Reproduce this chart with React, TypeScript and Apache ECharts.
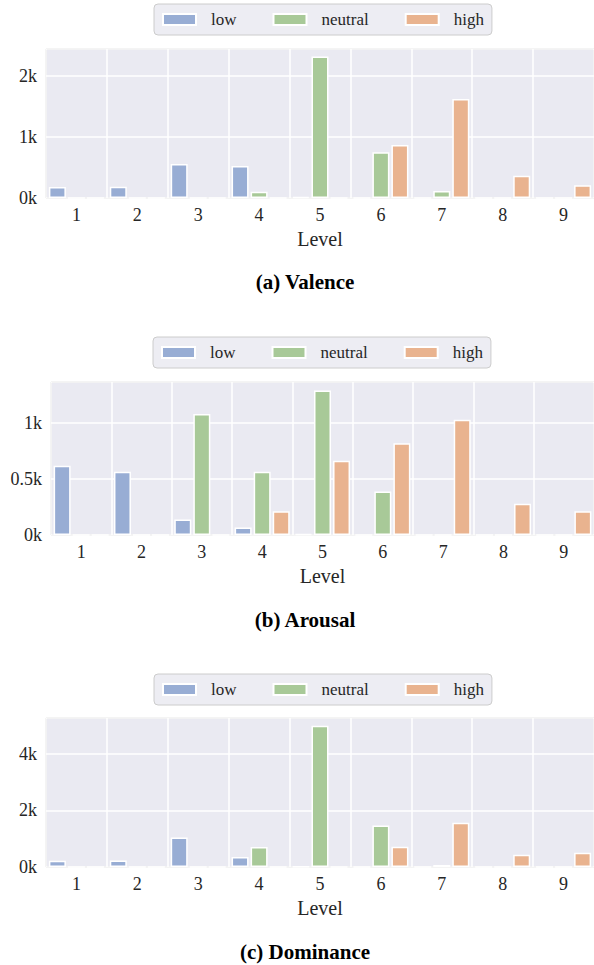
import React, { useEffect, useRef } from "react";
import * as echarts from "echarts";

const levels = ["1", "2", "3", "4", "5", "6", "7", "8", "9"];
const seriesNames = ["low", "neutral", "high"];
const colors = ["#98ADD4", "#A8C998", "#E9B38F"];

const valenceLow = [180, 185, 557, 525, 20, 0, 0, 0, 0];
const valenceNeutral = [0, 0, 0, 103, 2316, 749, 115, 0, 0];
const valenceHigh = [0, 0, 0, 0, 0, 869, 1623, 366, 208];

const arousalLow = [620, 566, 138, 66, 8, 0, 0, 0, 0];
const arousalNeutral = [0, 0, 1082, 566, 1294, 390, 0, 0, 0];
const arousalHigh = [0, 0, 0, 213, 665, 821, 1031, 279, 213];

const dominanceLow = [223, 234, 1048, 354, 10, 0, 0, 0, 0];
const dominanceNeutral = [0, 0, 0, 708, 5002, 1473, 71, 0, 0];
const dominanceHigh = [0, 0, 0, 0, 0, 719, 1568, 435, 506];

const captions = ["(a) Valence", "(b) Arousal", "(c) Dominance"];
const yMax = [2440, 1369, 5274];
const yInterval = [1000, 500, 2000];

const FONT = "Liberation Serif";

export default function App() {
  const ref = useRef<HTMLDivElement>(null);
  useEffect(() => {
    if (!ref.current) return;
    const chart = echarts.init(ref.current, undefined, { renderer: "svg" });
    const panels = [
      [valenceLow, valenceNeutral, valenceHigh],
      [arousalLow, arousalNeutral, arousalHigh],
      [dominanceLow, dominanceNeutral, dominanceHigh],
    ];
    const grids = [
      { left: 46, top: 49, height: 149, right: -3 },
      { left: 51, top: 382, height: 153, right: -2 },
      { left: 46, top: 718, height: 149, right: -3 },
    ];
    const legendPos = [
      { left: 154, top: 4 },
      { left: 153, top: 337 },
      { left: 154, top: 674 },
    ];
    const captionY = [282, 620, 952];

    const option: any = {
      animation: false,
      backgroundColor: "#ffffff",
      textStyle: { fontFamily: FONT },
      grid: grids.map((g) => ({
        ...g,
        show: true,
        backgroundColor: "#EAEAF2",
        borderColor: "#A8A8A8",
        borderWidth: 1,
        containLabel: false,
      })),
      legend: legendPos.map((p) => ({
        ...p,
        data: seriesNames,
        orient: "horizontal",
        itemWidth: 33,
        itemHeight: 11,
        itemGap: 36,
        padding: [7, 8, 7, 8],
        backgroundColor: "#EDEDF3",
        borderColor: "#CCCCCC",
        borderWidth: 1,
        borderRadius: 4,
        selectedMode: false,
        icon: "rect",
        textStyle: {
          fontFamily: FONT,
          fontSize: 17,
          color: "#262626",
          padding: [0, 0, 0, 10],
        },
      })),
      xAxis: grids.map((_, i) => ({
        type: "category",
        gridIndex: i,
        data: levels,
        boundaryGap: true,
        axisLine: { show: false },
        axisTick: { show: false },
        axisLabel: { fontFamily: FONT, fontSize: 18, color: "#262626", margin: 8 },
        splitLine: { show: true, lineStyle: { color: "#ffffff", width: 1.5 } },
        name: "Level",
        nameLocation: "middle",
        nameGap: 31,
        nameTextStyle: { fontFamily: FONT, fontSize: 20, color: "#262626" },
      })),
      yAxis: grids.map((_, i) => ({
        type: "value",
        gridIndex: i,
        min: 0,
        max: yMax[i],
        interval: yInterval[i],
        axisLine: { show: false },
        axisTick: { show: false },
        axisLabel: {
          fontFamily: FONT,
          fontSize: 18,
          color: "#262626",
          margin: 9,
          showMaxLabel: false,
          formatter: (v: number) =>
            v % yInterval[i] === 0 ? `${v / 1000}k` : "",
        },
        splitLine: { show: true, lineStyle: { color: "#ffffff", width: 1.5 } },
      })),
      series: panels.flatMap((panel, i) =>
        panel.map((vals, j) => ({
          type: "bar",
          name: seriesNames[j],
          xAxisIndex: i,
          yAxisIndex: i,
          data: vals,
          barWidth: 17,
          barGap: "12%",
          itemStyle: {
            color: colors[j],
            borderColor: "#ffffff",
            borderWidth: 1.5,
          },
        }))
      ),
      graphic: captions.map((c, i) => ({
        type: "text",
        x: 305,
        y: captionY[i],
        style: {
          text: c,
          fontFamily: FONT,
          fontWeight: "bold",
          fontSize: 21,
          fill: "#000000",
          textAlign: "center",
          textVerticalAlign: "middle",
        },
      })),
    };
    chart.setOption(option);
    return () => chart.dispose();
  }, []);
  return (
    <div
      ref={ref}
      style={{ position: "absolute", left: 0, top: 0, width: 594, height: 965 }}
    />
  );
}
